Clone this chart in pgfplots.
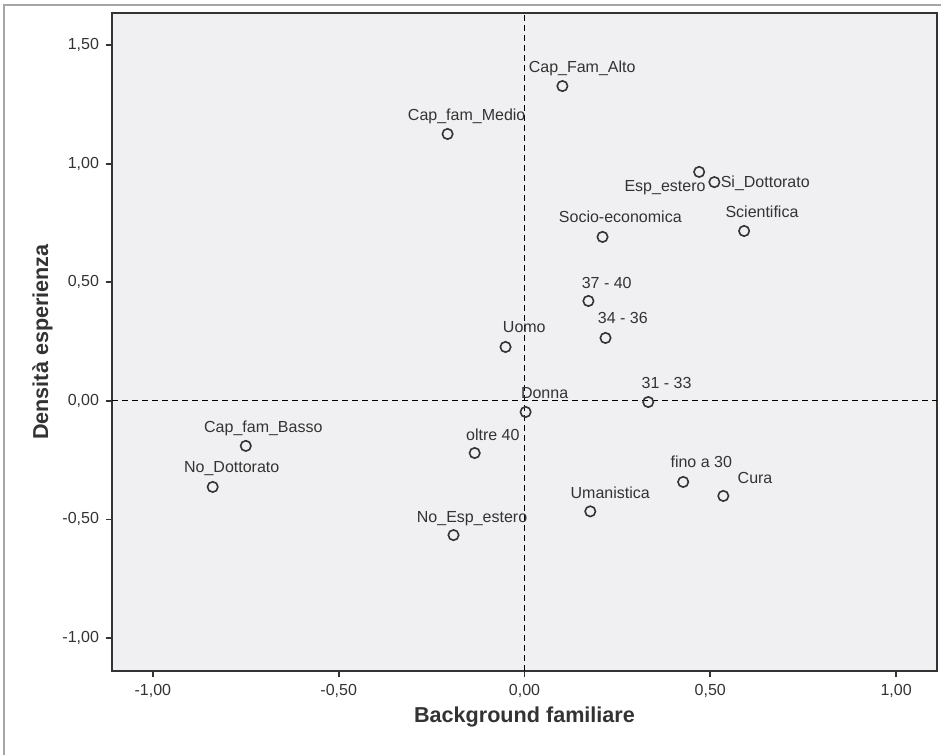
\documentclass[border=0pt]{standalone}
\usepackage{pgfplots}
\pgfplotsset{compat=1.18}
\usepackage{fontspec}
\setmainfont{Liberation Sans}
\definecolor{plotbg}{RGB}{240,240,242}
\definecolor{ink}{RGB}{51,51,51}

\begin{document}
\begin{tikzpicture}
\useasboundingbox (-56pt,-42pt) rectangle (414.5pt,335.5pt);
% outer frame (only its left and top sides fall inside the picture)
\draw[gray!70, line width=0.6pt] (-54pt,-42pt) -- (-54pt,333pt) -- (414.5pt,333pt);
\begin{axis}[
    at={(0,0)}, anchor=south west,
    scale only axis,
    width=412.5pt, height=329pt,
    xmin=-1.110, xmax=1.110,
    ymin=-1.139, ymax=1.635,
    axis background/.style={fill=plotbg},
    axis line style={ink, line width=1pt},
    xtick={-1,-0.5,0,0.5,1},
    ytick={-1,-0.5,0,0.5,1,1.5},
    xticklabels={{-1,00},{-0,50},{0,00},{0,50},{1,00}},
    yticklabels={{-1,00},{-0,50},{0,00},{0,50},{1,00},{1,50}},
    tick align=outside,
    major tick length=3pt,
    tick style={ink, line width=0.9pt},
    xtick pos=bottom, ytick pos=left,
    ticklabel style={font=\fontsize{8}{9}\selectfont, text=ink},
    xlabel={Background familiare},
    ylabel={Densità esperienza},
    label style={font=\fontsize{10.8}{12}\selectfont\bfseries, text=ink},
    xlabel style={yshift=2pt},
    ylabel style={yshift=-2pt},
    clip=false,
]
\draw[black, dashed, dash pattern=on 3pt off 2pt, line width=0.6pt]
    (axis cs:0,-1.139) -- (axis cs:0,1.635);
\draw[black, dashed, dash pattern=on 3pt off 2pt, line width=0.6pt]
    (axis cs:-1.110,0) -- (axis cs:1.110,0);

\addplot[only marks, mark=o, mark size=2.6pt, ink, line width=0.8pt] coordinates {
    (0.102,1.327) (-0.207,1.125) (0.470,0.965) (0.511,0.922)
    (0.591,0.716) (0.210,0.691) (0.172,0.421) (0.218,0.265)
    (-0.051,0.227) (0.333,-0.005) (0.003,-0.047) (-0.750,-0.190)
    (-0.134,-0.220) (-0.839,-0.363) (0.427,-0.342) (0.535,-0.401)
    (0.177,-0.466) (-0.191,-0.566)
};

\tikzset{lab/.style={anchor=base west, inner sep=0pt, text=ink, font=\fontsize{8}{9}\selectfont}}
\node[lab, xshift=-17pt, yshift=7pt] at (axis cs:0.102,1.327) {Cap\_Fam\_Alto};
\node[lab, xshift=-20pt, yshift=6.5pt] at (axis cs:-0.207,1.125) {Cap\_fam\_Medio};
\node[lab, xshift=-37.5pt, yshift=-10pt] at (axis cs:0.470,0.965) {Esp\_estero};
\node[lab, xshift=3pt, yshift=-2.5pt] at (axis cs:0.511,0.922) {Si\_Dottorato};
\node[lab, xshift=-9.5pt, yshift=6.5pt] at (axis cs:0.591,0.716) {Scientifica};
\node[lab, xshift=-22pt, yshift=7pt] at (axis cs:0.210,0.691) {Socio-economica};
\node[lab, xshift=-3.5pt, yshift=6pt] at (axis cs:0.172,0.421) {37 - 40};
\node[lab, xshift=-4pt, yshift=7pt] at (axis cs:0.218,0.265) {34 - 36};
\node[lab, xshift=-1.5pt, yshift=7pt] at (axis cs:-0.051,0.227) {Uomo};
\node[lab, xshift=-3.5pt, yshift=7pt] at (axis cs:0.333,-0.005) {31 - 33};
\node[lab, xshift=-2.5pt, yshift=6.5pt] at (axis cs:0.003,-0.047) {Donna};
\node[lab, xshift=-21pt, yshift=6.5pt] at (axis cs:-0.750,-0.190) {Cap\_fam\_Basso};
\node[lab, xshift=-4.5pt, yshift=6.5pt] at (axis cs:-0.134,-0.220) {oltre 40};
\node[lab, xshift=-14.5pt, yshift=7pt] at (axis cs:-0.839,-0.363) {No\_Dottorato};
\node[lab, xshift=-6.5pt, yshift=7pt] at (axis cs:0.427,-0.342) {fino a 30};
\node[lab, xshift=7pt, yshift=6pt] at (axis cs:0.535,-0.401) {Cura};
\node[lab, xshift=-10pt, yshift=6.5pt] at (axis cs:0.177,-0.466) {Umanistica};
\node[lab, xshift=-18.5pt, yshift=6.5pt] at (axis cs:-0.191,-0.566) {No\_Esp\_estero};
\end{axis}
\end{tikzpicture}
\end{document}
